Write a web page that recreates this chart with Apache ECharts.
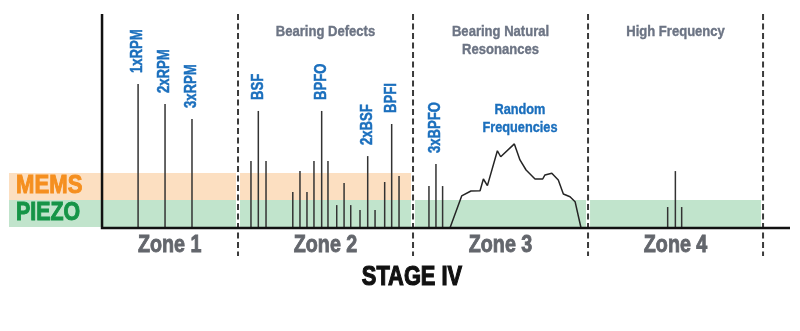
<!DOCTYPE html>
<html>
<head>
<meta charset="utf-8">
<script src="https://cdn.jsdelivr.net/npm/echarts@6/dist/echarts.min.js"></script>
<style>
  html, body { margin: 0; padding: 0; background: #fff; }
  #chart { width: 800px; height: 331px; }
</style>
</head>
<body>
<div id="chart"></div>
<script>
// Frequency axis is in "zone units": every zone is 10 units wide.
const zoneEdges = [10, 20, 30, 40];
const zoneNames = ['Zone 1', 'Zone 2', 'Zone 3', 'Zone 4'];
const zoneCenters = [6.1, 15, 25, 35];
const zoneHeaders = ['Bearing Defects', 'Bearing Natural\nResonances', 'High Frequency'];
const zoneHeaderCenters = [15, 25, 35];

// Discrete spectral peaks (frequency, amplitude, label)
const peakFreq = [
  4.29, 5.83, 7.37,
  10.74, 11.16, 11.6, 13.13, 13.54, 13.94, 14.34, 14.78, 15.14, 15.64,
  16.06, 16.44, 16.97, 17.41, 17.83, 18.38, 18.78, 19.2,
  20.91, 21.31, 21.69,
  34.55, 34.99, 35.35
];
const peakAmp = [
  67.3, 57.9, 50.9,
  31.3, 54.7, 31.3, 16.8, 26.6, 16.8, 31.3, 54.7, 31.3, 10.7,
  21.0, 10.7, 8.4, 33.6, 8.4, 21.5, 48.6, 24.3,
  19.6, 29.9, 19.6,
  9.8, 26.6, 9.8
];
const peakLabel = [
  '1xRPM', '2xRPM', '3xRPM',
  '', 'BSF', '', '', '', '', '', 'BPFO', '', '',
  '', '', '', '2xBSF', '', '', 'BPFI', '',
  '', '3xBPFO', '',
  '', '', ''
];

// Broadband natural-resonance hump
const randomFreq = [22.11, 22.78, 23.31, 23.83, 24.02, 24.25, 24.82, 25.01, 25.79, 26.11,
  26.46, 26.97, 27.41, 27.54, 27.93, 28.30, 28.59, 28.97, 29.26, 29.6];
const randomAmp = [0, 15.0, 17.3, 17.4, 22.9, 19.8, 36.1, 33.3, 39.3, 31.8,
  27.1, 22.9, 22.9, 24.8, 25.6, 22.4, 15.9, 14.6, 12.3, 0];

// Sensor noise floors: [from amplitude, to amplitude, upper frequency]
const memsBand = [13.1, 25.7, 20];
const piezoBand = [0.5, 13.1, 39.9];

const X_MIN = -3.086, X_MAX = 41.54, Y_MIN = -33.64, Y_MAX = 100;
const AXIS_X = 2.23;
const SEP_BOTTOM = -13.08;

// Arial-metric face squeezed horizontally (and stroked a little heavier)
// so it reads as a bold condensed grotesque
const FACE = '"Liberation Sans", Arial, sans-serif';
const BLUE = '#1b6fbd';
const GREY = '#63666c';
const HEAD = '#6c7484';

const chart = echarts.init(document.getElementById('chart'), null, { renderer: 'canvas' });

function textSeries(name, items, font, color, squeeze, weight, z) {
  return {
    name, type: 'custom', z, silent: true,
    data: items.map(it => [it.x, it.y]),
    renderItem(params, api) {
      const p = api.coord([api.value(0), api.value(1)]);
      const item = items[params.dataIndex];
      return {
        type: 'text', x: p[0], y: p[1], scaleX: squeeze,
        style: {
          text: item.text, font, fill: color,
          stroke: color, lineWidth: weight,
          align: item.align || 'center', verticalAlign: 'middle',
          lineHeight: item.lineHeight || 18
        }
      };
    }
  };
}

const bands = [
  { lo: memsBand[0], hi: memsBand[1], to: memsBand[2], color: '#fcdfc1' },
  { lo: piezoBand[0], hi: piezoBand[1], to: piezoBand[2], color: '#c1e4cc' }
];

const option = {
  animation: false,
  grid: { left: 9, right: 10, top: 14, bottom: 31 },
  xAxis: { type: 'value', min: X_MIN, max: X_MAX, show: false },
  yAxis: { type: 'value', min: Y_MIN, max: Y_MAX, show: false },
  series: [
    {
      name: 'bands', type: 'custom', z: 1, silent: true,
      data: bands.map((b, i) => [i]),
      renderItem(params, api) {
        const b = bands[params.dataIndex];
        const p0 = api.coord([X_MIN, b.hi]);
        const p1 = api.coord([b.to, b.lo]);
        return { type: 'rect', shape: { x: p0[0], y: p0[1], width: p1[0] - p0[0], height: p1[1] - p0[1] },
          style: { fill: b.color } };
      }
    },
    {
      name: 'zone separators', type: 'custom', z: 2, silent: true,
      data: zoneEdges.map(x => [x]),
      renderItem(params, api) {
        const x = api.value(0);
        const top = api.coord([x, Y_MAX]);
        const bot = api.coord([x, SEP_BOTTOM]);
        const bandTop = api.coord([x, memsBand[1]]);
        const bandBot = api.coord([x, piezoBand[0]]);
        return {
          type: 'group', children: [
            { type: 'line', shape: { x1: top[0], y1: bandTop[1], x2: top[0], y2: bandBot[1] },
              style: { stroke: '#ffffff', lineWidth: 4 } },
            { type: 'line', shape: { x1: top[0], y1: top[1], x2: bot[0], y2: bot[1] },
              style: { stroke: '#3a3a3a', lineWidth: 2, lineDash: [6, 3.5] } }
          ]
        };
      }
    },
    {
      name: 'Random Frequencies', type: 'line', z: 3, silent: true,
      data: randomFreq.map((f, i) => [f, randomAmp[i]]),
      showSymbol: false, symbol: 'none',
      lineStyle: { color: '#252525', width: 1.5 }
    },
    {
      name: 'peaks', type: 'custom', z: 3, silent: true,
      data: peakFreq.map((f, i) => [f, peakAmp[i]]),
      renderItem(params, api) {
        const x = api.value(0), h = api.value(1);
        const p0 = api.coord([x, 0]);
        const p1 = api.coord([x, h]);
        const children = [{
          type: 'line', shape: { x1: p0[0], y1: p0[1], x2: p1[0], y2: p1[1] },
          style: { stroke: '#333333', lineWidth: 1.5 }
        }];
        const lbl = peakLabel[params.dataIndex];
        if (lbl) {
          children.push({
            type: 'text', x: p1[0], y: p1[1] - 11, rotation: Math.PI / 2, scaleX: 0.82,
            style: { text: lbl, font: 'bold 16px ' + FACE, fill: BLUE, stroke: BLUE, lineWidth: 0.5,
              align: 'left', verticalAlign: 'middle' }
          });
        }
        return { type: 'group', children };
      }
    },
    {
      name: 'axes', type: 'custom', z: 4, silent: true,
      data: [[AXIS_X]],
      renderItem(params, api) {
        const o = api.coord([AXIS_X, 0]);
        const t = api.coord([AXIS_X, Y_MAX]);
        const r = api.coord([X_MAX, 0]);
        return { type: 'polyline', shape: { points: [t, o, r] },
          style: { stroke: '#111111', lineWidth: 2.5, fill: null } };
      }
    },
    textSeries('zone names',
      zoneNames.map((t, i) => ({ x: zoneCenters[i], y: -7.9, text: t })),
      'bold 24px ' + FACE, GREY, 0.82, 0.9, 5),
    textSeries('zone headers',
      zoneHeaders.map((t, i) => ({ x: zoneHeaderCenters[i], y: t.includes('\n') ? 87.4 : 91.6, text: t })),
      'bold 15px ' + FACE, HEAD, 0.87, 0.4, 5),
    textSeries('random label',
      [{ x: 26.11, y: 50.9, text: 'Random\nFrequencies' }],
      'bold 15px ' + FACE, BLUE, 0.85, 0.4, 5),
    textSeries('mems label', [{ x: -2.68, y: 19.6, text: 'MEMS', align: 'left' }],
      'bold 26px ' + FACE, '#f58f1f', 0.85, 1.0, 5),
    textSeries('piezo label', [{ x: -2.68, y: 7.0, text: 'PIEZO', align: 'left' }],
      'bold 26px ' + FACE, '#159447', 0.82, 1.0, 5),
    textSeries('stage', [{ x: 19.94, y: -22.9, text: 'STAGE IV' }],
      'bold 28px ' + FACE, '#111111', 0.78, 1.2, 5)
  ]
};

chart.setOption(option);
</script>
</body>
</html>
